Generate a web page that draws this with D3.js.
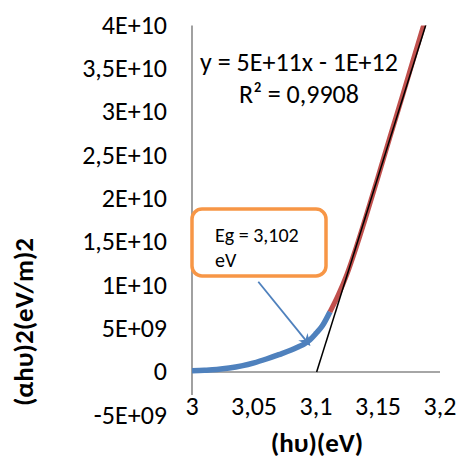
<!DOCTYPE html>
<html>
<head>
<meta charset="utf-8">
<script src="https://cdn.jsdelivr.net/npm/d3@7"></script>
<style>
  html, body { margin: 0; padding: 0; background: #fff; }
  svg { display: block; }
  text { font-family: Carlito, Calibri, Lato, sans-serif; fill: #000; }
</style>
</head>
<body>
<svg id="chart" width="458" height="459"></svg>
<script>
// ---- data ----
const yTickValues = [-5e9, 0, 5e9, 1e10, 1.5e10, 2e10, 2.5e10, 3e10, 3.5e10, 4e10];
const yTickLabels = ["-5E+09", "0", "5E+09", "1E+10", "1,5E+10", "2E+10", "2,5E+10", "3E+10", "3,5E+10", "4E+10"];
const xTickValues = [3, 3.05, 3.1, 3.15, 3.2];
const xTickLabels = ["3", "3,05", "3,1", "3,15", "3,2"];

const blueX = [3.000, 3.010, 3.020, 3.030, 3.040, 3.050, 3.060, 3.070, 3.080, 3.085, 3.090, 3.095, 3.100, 3.105, 3.1113];
const blueY = [1.5e8, 2.0e8, 2.8e8, 4.5e8, 7.0e8, 1.05e9, 1.5e9, 2.0e9, 2.53e9, 2.85e9, 3.2e9, 3.7e9, 4.45e9, 5.3e9, 6.95e9];

const redX = [3.1113, 3.118, 3.125, 3.132, 3.140, 3.150, 3.160, 3.170, 3.180, 3.188];
const redY = [6.95e9, 8.9e9, 1.13e10, 1.42e10, 1.78e10, 2.25e10, 2.73e10, 3.20e10, 3.68e10, 4.06e10];

const trendSlope = [4.55e11];
const trendZero = [3.1005];
const trendRange = [3.1005, 3.195];

const equationText = ["y = 5E+11x - 1E+12", "R² = 0,9908"];
const calloutText = ["Eg = 3,102", "eV"];
const calloutTarget = [3.0955, 3.0e9];
const xTitle = ["(hυ)(eV)"];
const yTitle = ["(αhυ)2(eV/m)2"];

// ---- layout ----
const svg = d3.select("#chart");
const x = d3.scaleLinear().domain([3, 3.2]).range([192, 440]);
const y = d3.scaleLinear().domain([-5e9, 4e10]).range([415.3, 25.5]);

const fs = 26;
const fsTitle = 27;
const fsCallout = 20;

// clip
svg.append("defs").append("clipPath").attr("id", "plot")
  .append("rect").attr("x", x(3)).attr("y", y(4e10)).attr("width", x(3.2) - x(3)).attr("height", y(-5e9) - y(4e10));

// axes lines
svg.append("line").attr("x1", x(3)).attr("x2", x(3)).attr("y1", y(4e10)).attr("y2", 395)
  .attr("stroke", "#898989").attr("stroke-width", 1.6);
svg.append("line").attr("x1", x(3)).attr("x2", x(3.2)).attr("y1", y(0)).attr("y2", y(0))
  .attr("stroke", "#898989").attr("stroke-width", 1.6);

// y tick labels
svg.append("g").selectAll("text").data(yTickValues).join("text")
  .attr("x", 167).attr("y", d => y(d)).attr("dy", "0.32em")
  .attr("text-anchor", "end").attr("font-size", fs)
  .text((d, i) => yTickLabels[i]);

// x tick labels
svg.append("g").selectAll("text").data(xTickValues).join("text")
  .attr("x", d => x(d)).attr("y", 415)
  .attr("text-anchor", "middle").attr("font-size", fs)
  .text((d, i) => xTickLabels[i]);

// titles
svg.append("text").attr("x", 317).attr("y", 452).attr("text-anchor", "middle")
  .attr("font-size", fsTitle).attr("font-weight", "bold").text(xTitle[0]);
svg.append("text").attr("transform", "translate(33,322) rotate(-90)").attr("text-anchor", "middle")
  .attr("font-size", fsTitle).attr("font-weight", "bold").text(yTitle[0]);

const plot = svg.append("g").attr("clip-path", "url(#plot)");
const line = d3.line().x(d => x(d[0])).y(d => y(d[1])).curve(d3.curveMonotoneX);

plot.append("path").datum(blueX.map((v, i) => [v, blueY[i]]))
  .attr("d", line).attr("fill", "none").attr("stroke", "#4F81BD").attr("stroke-width", 5.5)
  .attr("stroke-linecap", "butt");
plot.append("path").datum(redX.map((v, i) => [v, redY[i]]))
  .attr("d", line).attr("fill", "none").attr("stroke", "#C0504D").attr("stroke-width", 5)
  .attr("stroke-linecap", "butt");

// trendline
const tl = trendRange.map(v => [v, trendSlope[0] * (v - trendZero[0])]);
plot.append("line").attr("x1", x(tl[0][0])).attr("y1", y(tl[0][1]))
  .attr("x2", x(tl[1][0])).attr("y2", y(tl[1][1]))
  .attr("stroke", "#000").attr("stroke-width", 1.5);

// equation
svg.append("text").attr("x", 299).attr("y", 71).attr("text-anchor", "middle").attr("font-size", fs).text(equationText[0]);
svg.append("text").attr("x", 299).attr("y", 103).attr("text-anchor", "middle").attr("font-size", fs).text(equationText[1]);

// callout box
svg.append("rect").attr("x", 192).attr("y", 209).attr("width", 134).attr("height", 67)
  .attr("rx", 10).attr("ry", 10).attr("fill", "#fff").attr("stroke", "#F79646").attr("stroke-width", 3.5);
svg.append("g").selectAll("text").data(calloutText).join("text")
  .attr("x", 215).attr("y", (d, i) => 241.5 + i * 25).attr("font-size", fsCallout).text(d => d);

// arrow
const sx = 258.3, sy = 281.7;
const tx = x(calloutTarget[0]), ty = y(calloutTarget[1]);
const ang = Math.atan2(ty - sy, tx - sx);
svg.append("line").attr("x1", sx).attr("y1", sy).attr("x2", tx - 6 * Math.cos(ang)).attr("y2", ty - 6 * Math.sin(ang))
  .attr("stroke", "#4F81BD").attr("stroke-width", 1.8);
const L = 12, W = 6, back = 8;
const ux = Math.cos(ang), uy = Math.sin(ang), px = -uy, py = ux;
const pts = [
  [tx, ty],
  [tx - L * ux + W * px, ty - L * uy + W * py],
  [tx - back * ux, ty - back * uy],
  [tx - L * ux - W * px, ty - L * uy - W * py]
];
svg.append("path").attr("d", "M" + pts.map(p => p.join(",")).join("L") + "Z").attr("fill", "#4F81BD");
</script>
</body>
</html>
